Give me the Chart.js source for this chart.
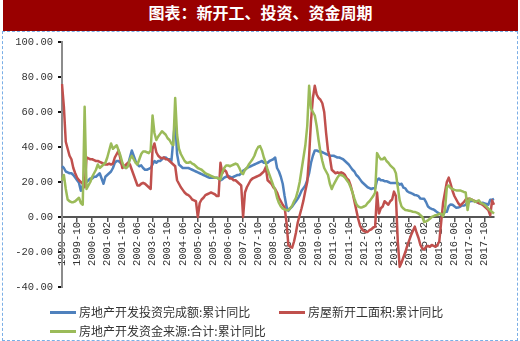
<!DOCTYPE html>
<html>
<head>
<meta charset="utf-8">
<script src="https://cdn.jsdelivr.net/npm/chart.js@4/dist/chart.umd.min.js"></script>
<style>
  body { margin: 0; width: 520px; height: 341px; position: relative; background: #fff; overflow: hidden; }
  #title {
    position: absolute; left: 3px; top: 0; width: 515px; height: 31px;
    background: #990000; color: #fff; text-align: center; line-height: 31px;
    font: bold 16px "Noto Sans CJK SC", sans-serif;
  }
  #frame {
    position: absolute; left: 2px; top: 31px; width: 514px; height: 308px;
    border: 1px dashed #7aaee6;
  }
  #chart { position: absolute; left: 0; top: 0; }
  .item {
    position: absolute; height: 16px; line-height: 16px; white-space: nowrap;
    font: 12px "Noto Sans CJK SC", sans-serif; color: #333;
  }
  .item i { display: inline-block; width: 26px; height: 3px; vertical-align: middle; margin-right: 3px; margin-top: -2px; }
</style>
</head>
<body>
<div id="title">图表：新开工、投资、资金周期</div>
<div id="frame"></div>
<canvas id="chart" width="520" height="341"></canvas>
<div class="item" style="left:50px; top:303px;"><i style="background:#4f81bd"></i>房地产开发投资完成额:累计同比</div>
<div class="item" style="left:279px; top:303px;"><i style="background:#c0504d"></i>房屋新开工面积:累计同比</div>
<div class="item" style="left:50px; top:322px;"><i style="background:#9bbb59"></i>房地产开发资金来源:合计:累计同比</div>
<script>
// monthly categories, 1999-02 .. 2018-03
const months = [];
for (let y = 1999, m = 2; y < 2018 || m <= 3; m++) {
  if (m > 12) { m = 1; y++; }
  months.push(y + "-" + String(m).padStart(2, "0"));
}
const labelStep = 8; // one axis label every 8 months

// 房地产开发投资完成额:累计同比 (%)
const investYoY = [
  29, 28, 26, 25.5, 25, 25, 24, 22.5, 21, 19.5, 15,
  18, 20, 20, 21, 22, 22, 23, 23, 24, 25, 22, 19,
  23, 24, 25, 26, 28, 31, 32, 32, 31, 30, 29, 28,
  30, 34, 38, 35, 32, 30, 29, 29.5, 28, 27, 27, 27.5,
  28, 30, 32, 31, 32, 32, 33, 34, 34, 33, 33, 32,
  44, 56, 36, 30, 29, 28, 28, 28, 28, 27.5, 27, 26.5,
  26, 25.5, 25, 24.5, 24, 23.5, 23, 22.5, 22.5, 22.5, 22.5, 22.5,
  22, 21, 21.5, 22.5, 23, 23.5, 23, 22.5, 23, 23.5, 24, 24,
  25, 26.5, 27, 28, 28.5, 29, 29.5, 30, 30.5, 31, 31.5, 32,
  31, 31, 31, 32, 32.5, 33, 34, 28, 26, 23, 19, 12,
  6, 3.5, 5, 6, 7.5, 9, 10.5, 12.5, 15, 16.5, 18, 21,
  25, 31, 35, 38, 38, 37.5, 37.5, 37, 36.5, 36, 35.5, 35,
  35, 35, 34.5, 34, 34, 33.5, 33, 32, 31, 30, 28.5, 27,
  26, 24, 23, 21.5, 20, 19, 18, 17, 16.5, 16, 16.5, 16.5,
  21, 22, 21, 21, 20.5, 20.5, 20, 19.5, 19.5, 19.5, 19.5, 19.5,
  18.5, 19, 16.8, 16.4, 14.7, 14.1, 13.7, 13.2, 12.5, 12.4, 11.9, 10.5,
  10.4, 10.4, 8.5, 6, 5.1, 4.6, 4.3, 3.5, 2.6, 2, 1.3, 1,
  3, 3, 6.2, 7.2, 7, 6.1, 5.3, 5.4, 5.8, 6.6, 6.5, 6.9,
  8.9, 8.9, 9.1, 9.3, 8.8, 8.5, 7.9, 7.9, 8.1, 7.8, 7.5, 7,
  9.9, 9.9, 10.4
];

// 房屋新开工面积:累计同比 (%)
const startsYoY = [
  76, 63, 43, 39, 35, 33, 28, 25, 22.5, 21, 20,
  19, 17, 34, 33.5, 33, 33, 32.5, 32, 32, 31.5, 31, 30.5,
  30, 30, 30.5, 30, 30.5, 34, 36, 38, 33, 28, 29, 30,
  31, 30, 27, 24, 21, 18, 18, 19, 19.5, 19, 18, 17,
  16, 39, 42, 37, 35, 34, 33.5, 34, 33, 33, 32, 31,
  30, 29, 21, 19, 17, 15.5, 14, 13, 12.5, 11.5, 10, 9.5,
  9, 0, 8, 10, 11, 12.5, 13, 13.5, 14, 13.5, 13, 12,
  12, 31, 25, 27, 26, 23, 22, 22, 21, 21, 20, 19,
  18, 0, 14, 17, 19, 21, 22, 22.5, 23, 23.5, 24, 25,
  26, 28.5, 21, 20, 19, 17, 16, 14, 11, 9, 7, 5.5,
  -3, -16, -17, -17.5, -14, -9, -3, 1, 5, 9.5, 15, 20,
  35, 55, 68, 75, 70, 68, 67, 65, 60, 48, 38, 34,
  27, 26, 25, 25.5, 25, 25.5, 25, 24, 22, 21, 18, 14,
  9, 4, -1, -5, -7, -8, -8.5, -8.5, -7.5, -7, -6, -5.5,
  14, 2, 5, 6, 9, 8, 7, 9, 10, 14.5, 12, -14,
  -28.5, -26, -23, -20, -16.5, -13.5, -10.5, -8, -5.5, -9, -12, -16,
  -18, -18.5, -17, -16.5, -17, -16, -16.5, -17, -16, -14, -3, 8,
  14, 20, 22.5, 19, 15, 12, 10, 8, 6.5, 7.5, 8.5, 10,
  10.5, 10.5, 10, 9.5, 9, 8.5, 8, 7.5, 7, 6, 5, 4,
  1, 9.5, 7
];

// 房地产开发资金来源:合计:累计同比 (%)
const fundsYoY = [
  21, 24, 16, 10, 9, 8.5, 8.5, 9, 10, 11, 8,
  7, 63, 16, 18, 20, 23, 25, 27, 30, 28, 29, 30,
  31, 34, 38, 42, 39, 40, 41, 38, 35, 31, 28.5, 28,
  29, 33, 35, 33, 31, 30, 33, 36, 37.5, 37.5, 37, 36.5,
  38, 58, 48, 44, 46, 47.5, 49, 48, 47, 45, 44, 42,
  41, 68, 47, 39, 36, 34, 32, 31, 31, 31.5, 30.5, 30,
  29, 28, 27.5, 27, 26, 25, 24.5, 24, 23.5, 23, 22.5, 22.5,
  22, 21.5, 25.5, 28, 29.5, 29.5, 29, 29.5, 30, 30.5, 30, 28,
  25.5, 24.5, 27, 28, 30, 31.5, 33, 35, 38, 40, 40.5, 38,
  34, 31, 27, 24, 21, 18, 15.5, 11, 8, 6, 4.8, 4.4,
  3.8, 4, 5, 6.5, 9, 11, 15, 20, 27, 34, 41, 52,
  75, 62, 60, 58, 52, 44, 37, 32, 28, 26, 24, 19,
  16, 18.5, 20.5, 22.5, 24, 24, 23.5, 22.5, 21, 19.5, 17, 14,
  10.5, 7.5, 6, 5.5, 5.5, 6, 6.5, 8, 9, 10.5, 12, 14,
  36.5, 34.5, 33, 33, 34, 32, 31, 29.5, 28.5, 27.5, 25, 17,
  9.5, 6, 4.8, 4, 3.8, 3.6, 3.4, 3, 2.9, 2.5, 2, 1,
  0, -2.9, -2.5, -1.9, -1, 0, 0.5, 1, 1.2, 1.8, 1.9, 0.5,
  3.8, 17, 18, 16.5, 16, 15.5, 15.2, 15.2, 15.2, 14.8, 14.3, 14,
  4, 10.5, 10, 9.5, 8.6, 9, 9.5, 8, 7.6, 7, 6, 4.8,
  3.8, 2.9, 1.9
];

const axisFont = { family: "'Liberation Mono', monospace", size: 10.5 };

new Chart(document.getElementById("chart"), {
  type: "line",
  data: {
    labels: months,
    datasets: [
      { label: "房地产开发投资完成额:累计同比", data: investYoY, borderColor: "#4f81bd", order: 3 },
      { label: "房屋新开工面积:累计同比", data: startsYoY, borderColor: "#c0504d", order: 2 },
      { label: "房地产开发资金来源:合计:累计同比", data: fundsYoY, borderColor: "#9bbb59", order: 1 }
    ]
  },
  options: {
    responsive: false,
    animation: false,
    devicePixelRatio: 1,
    layout: { padding: { top: 42, right: 26, bottom: 54, left: 0 } },
    elements: {
      point: { radius: 0 },
      line: { borderWidth: 2.5, tension: 0, borderJoinStyle: "round" }
    },
    plugins: { legend: { display: false }, tooltip: { enabled: false } },
    scales: {
      x: {
        position: { y: 0 },
        grid: { drawOnChartArea: false, tickLength: 4, color: "#555", lineWidth: 1.5 },
        border: { color: "#555", width: 2 },
        ticks: {
          autoSkip: false, minRotation: 90, maxRotation: 90, padding: 1,
          color: "#333", font: axisFont,
          callback: (v, i) => (i % labelStep === 0 ? months[i] : null)
        }
      },
      y: {
        min: -40, max: 100,
        afterFit: s => { s.width = 62; },
        grid: { drawOnChartArea: false, tickLength: 4, color: "#111", lineWidth: 2 },
        border: { color: "#8c8c8c", width: 2 },
        ticks: { stepSize: 20, padding: 5, color: "#333", font: axisFont, callback: v => v.toFixed(2) }
      }
    }
  }
});
</script>
</body>
</html>
